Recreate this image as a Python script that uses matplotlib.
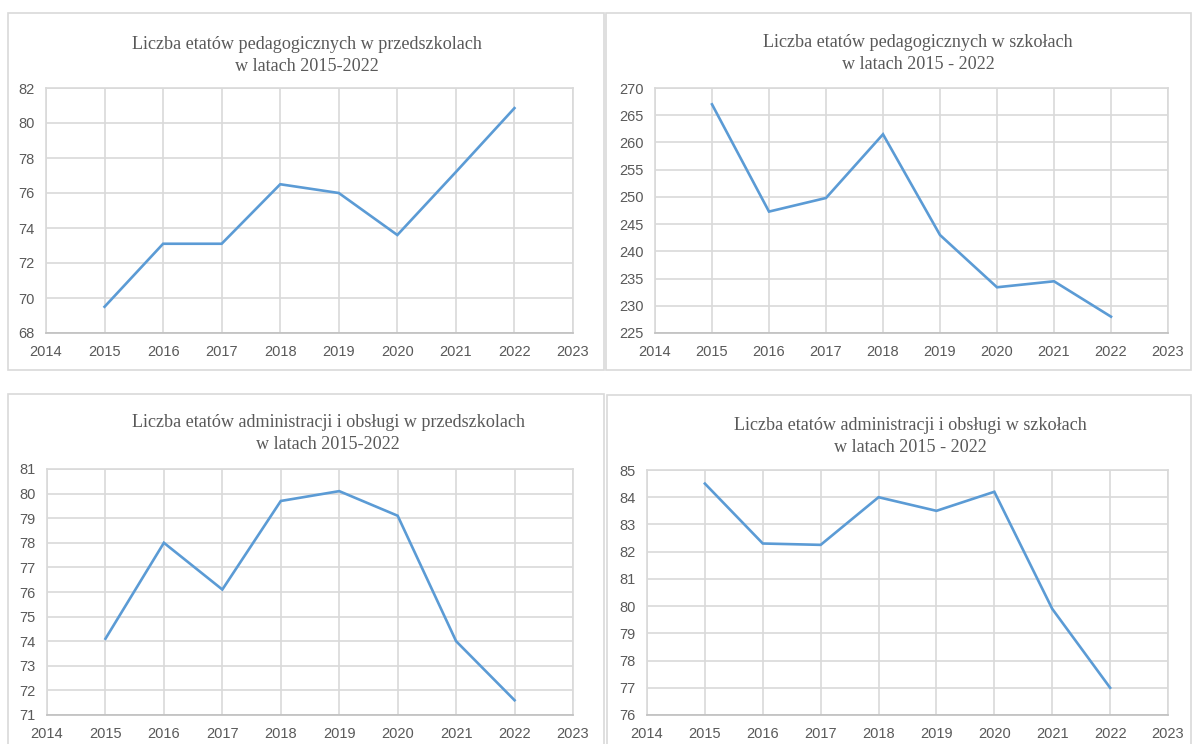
import matplotlib.pyplot as plt
from matplotlib.patches import Rectangle

W, H = 1192, 744

years = [2015, 2016, 2017, 2018, 2019, 2020, 2021, 2022]

ped_przedszkola = [69.5, 73.1, 73.1, 76.5, 76.0, 73.6, 77.2, 80.85]
ped_szkoly = [267.0, 247.3, 249.8, 261.5, 243.0, 233.4, 234.5, 228.0]
adm_przedszkola = [74.1, 78.0, 76.1, 79.7, 80.1, 79.1, 74.0, 71.6]
adm_szkoly = [84.5, 82.3, 82.25, 84.0, 83.5, 84.2, 79.9, 77.0]

titles = [
    "Liczba etatów pedagogicznych w przedszkolach\nw latach 2015-2022",
    "Liczba etatów pedagogicznych w szkołach\nw latach 2015 - 2022",
    "Liczba etatów administracji i obsługi w przedszkolach\nw latach 2015-2022",
    "Liczba etatów administracji i obsługi w szkołach\nw latach 2015 - 2022",
]
series = [ped_przedszkola, ped_szkoly, adm_przedszkola, adm_szkoly]
yranges = [(68, 82, 2), (225, 270, 5), (71, 81, 1), (76, 85, 1)]

# pixel layout: (box l, t, r, b), (axes l, t, r, b), title centre x, title top y
layout = [
    ((8, 13, 604, 370), (46, 88, 573, 333), 307, 36),
    ((606, 13, 1191, 370), (655, 88, 1168, 333), 918, 34),
    ((8, 394, 604, 760), (47, 469, 573, 715), 328, 414),
    ((607, 395, 1191, 760), (647, 470, 1168, 715), 910, 417),
]

LINE = "#5b9bd5"
GRID = "#d9d9d9"
TXT = "#595959"

fig = plt.figure(figsize=(W / 100, H / 100), dpi=100)

for data, title, (y0, y1, ys), (box, ax_px, tx, ty) in zip(series, titles, yranges, layout):
    bl, bt, br, bb = box
    fig.patches.append(Rectangle((bl / W, 1 - bb / H), (br - bl) / W, (bb - bt) / H,
                                 transform=fig.transFigure, fill=False,
                                 edgecolor=GRID, linewidth=1.2))
    al, at, ar, ab = ax_px
    ax = fig.add_axes([al / W, 1 - ab / H, (ar - al) / W, (ab - at) / H])
    ax.plot(years, data, color=LINE, linewidth=1.9, solid_joinstyle="miter")
    ax.set_xlim(2014, 2023)
    ax.set_ylim(y0, y1)
    ax.set_xticks(range(2014, 2024))
    ax.set_yticks(range(y0, y1 + 1, ys))
    ax.grid(True, color=GRID, linewidth=1.2)
    ax.set_axisbelow(True)
    for s in ax.spines.values():
        s.set_color(GRID)
        s.set_linewidth(1.2)
    ax.spines["bottom"].set_color("#bfbfbf")
    ax.tick_params(length=0, labelsize=10.5, labelcolor=TXT)
    ax.tick_params(axis="x", pad=9)
    ax.tick_params(axis="y", pad=8)
    for lab in ax.get_xticklabels() + ax.get_yticklabels():
        lab.set_family("Liberation Sans")
    fig.text(tx / W, 1 - ty / H, title, ha="center", va="top", fontsize=13.1,
             family="Liberation Serif", color=TXT, linespacing=1.35)

fig.savefig("out.png", dpi=100)
